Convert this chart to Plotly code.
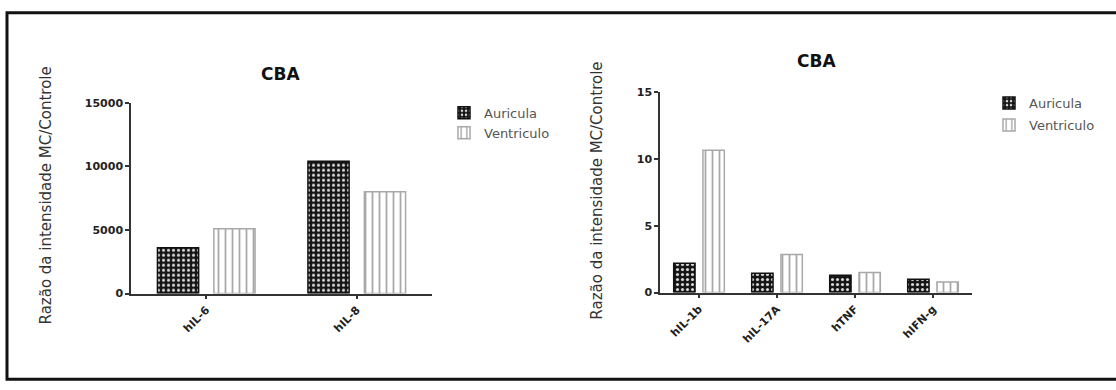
import plotly.graph_objects as go

# ---------------- data ----------------
left_categories = ["hIL-6", "hIL-8"]
left_auricula = [3600, 10400]
left_ventriculo = [5100, 8000]

right_categories = ["hIL-1b", "hIL-17A", "hTNF", "hIFN-g"]
right_auricula = [2.2, 1.45, 1.3, 1.0]
right_ventriculo = [10.65, 2.85, 1.5, 0.8]

left_yticks = [0, 5000, 10000, 15000]
right_yticks = [0, 5, 10, 15]

series_names = ["Auricula", "Ventriculo"]
title_text = "CBA"
ytitle_text = "Razão da intensidade MC/Controle"

# ---------------- styles ----------------
W, H = 1116, 390
FONT = "DejaVu Sans"

aur_marker = dict(
    color="#111111",
    line=dict(color="#111111", width=1.5),
    pattern=dict(shape=".", bgcolor="#151515", fgcolor="#d8d8d8",
                 size=5, solidity=0.3, fillmode="replace"),
)
ven_marker = dict(
    color="#ffffff",
    line=dict(color="#a8a8a8", width=1.5),
    pattern=dict(shape="|", bgcolor="#ffffff", fgcolor="#a8a8a8",
                 size=7, solidity=0.25, fillmode="replace"),
)

fig = go.Figure()

# left chart
fig.add_trace(go.Bar(x=left_categories, y=left_auricula, name=series_names[0],
                     marker=aur_marker, xaxis="x", yaxis="y",
                     legend="legend", legendgroup="a1"))
fig.add_trace(go.Bar(x=left_categories, y=left_ventriculo, name=series_names[1],
                     marker=ven_marker, xaxis="x", yaxis="y",
                     legend="legend", legendgroup="v1"))
# right chart
fig.add_trace(go.Bar(x=right_categories, y=right_auricula, name=series_names[0],
                     marker=aur_marker, xaxis="x2", yaxis="y2",
                     legend="legend2", legendgroup="a2"))
fig.add_trace(go.Bar(x=right_categories, y=right_ventriculo, name=series_names[1],
                     marker=ven_marker, xaxis="x2", yaxis="y2",
                     legend="legend2", legendgroup="v2"))


def px_x(v):
    return v / W


def px_y(v):
    return 1 - v / H


axis_common = dict(
    showgrid=False, zeroline=False, showline=True, linecolor="#333333",
    linewidth=1.5, ticks="outside", ticklen=4, tickwidth=1.5, tickcolor="#333333",
    tickfont=dict(family=FONT, size=11, color="#222222", weight="bold"),
)

fig.update_layout(
    width=W, height=H, autosize=False,
    margin=dict(l=0, r=0, t=0, b=0),
    paper_bgcolor="white", plot_bgcolor="white",
    barmode="group", bargap=0.25, bargroupgap=0.27,
    showlegend=True,
    xaxis=dict(domain=[px_x(131), px_x(432)], anchor="y", tickangle=-45,
               **axis_common),
    yaxis=dict(domain=[px_y(297.5), px_y(100)], anchor="x", range=[0, 15000],
               tickvals=left_yticks, tickformat="d", **axis_common),
    xaxis2=dict(domain=[px_x(660), px_x(972)], anchor="y2", tickangle=-45,
                **axis_common),
    yaxis2=dict(domain=[px_y(296.5), px_y(89)], anchor="x2", range=[0, 15],
                tickvals=right_yticks, tickformat="d", **axis_common),
    legend=dict(x=px_x(444), y=px_y(95), xanchor="left", yanchor="top",
                font=dict(family=FONT, size=13, color="#555555"),
                bgcolor="rgba(0,0,0,0)", tracegroupgap=0, traceorder="grouped"),
    legend2=dict(x=px_x(989), y=px_y(85), xanchor="left", yanchor="top",
                 font=dict(family=FONT, size=13, color="#555555"),
                 bgcolor="rgba(0,0,0,0)", tracegroupgap=2, traceorder="grouped"),
    annotations=[
        dict(text=title_text, x=px_x(280), y=px_y(70), xref="paper", yref="paper",
             showarrow=False, xanchor="center", yanchor="middle",
             font=dict(family=FONT, size=17, color="#111111", weight="bold")),
        dict(text=title_text, x=px_x(816), y=px_y(57), xref="paper", yref="paper",
             showarrow=False, xanchor="center", yanchor="middle",
             font=dict(family=FONT, size=17, color="#111111", weight="bold")),
        dict(text=ytitle_text, x=px_x(46), y=px_y(196), xref="paper", yref="paper",
             showarrow=False, textangle=-90, xanchor="center", yanchor="middle",
             font=dict(family=FONT, size=15, color="#333333")),
        dict(text=ytitle_text, x=px_x(597), y=px_y(191), xref="paper", yref="paper",
             showarrow=False, textangle=-90, xanchor="center", yanchor="middle",
             font=dict(family=FONT, size=15, color="#333333")),
    ],
    shapes=[
        dict(type="rect", xref="paper", yref="paper",
             x0=px_x(7), x1=px_x(1125), y0=px_y(386), y1=px_y(7),
             line=dict(color="#111111", width=3), fillcolor="rgba(0,0,0,0)"),
    ],
)

fig.write_html("out.html", config={"displayModeBar": False},
               post_script="document.body.style.margin='0';")
